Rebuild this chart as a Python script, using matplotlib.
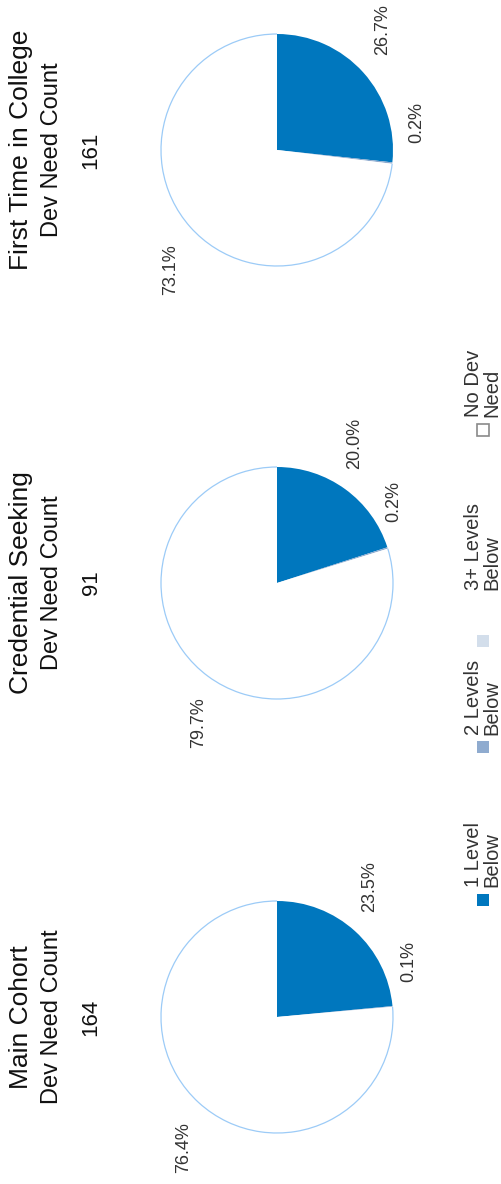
import numpy as np
import matplotlib.pyplot as plt
from matplotlib.patches import Arc, Rectangle

plt.rcParams['font.family'] = ['Liberation Sans', 'DejaVu Sans']

# Data
groups = ['Main Cohort', 'Credential Seeking', 'First Time in College']
counts = [164, 91, 161]
levels = ['1 Level\nBelow', '2 Levels\nBelow', '3+ Levels\nBelow', 'No Dev\nNeed']
main_pct = [23.5, 0.1, 0.0, 76.4]
cred_pct = [20.0, 0.2, 0.0, 79.7]
ftic_pct = [26.7, 0.2, 0.0, 73.1]
colors = ['#0077be', '#8fabcf', '#d3deeb', '#ffffff']

W, H = 501, 1184
R = 116                       # pie radius in px
pie_cx = 277
pie_cy = [1017, 583, 150]     # pie centres, px from top

fig = plt.figure(figsize=(W / 100, H / 100), dpi=100)

for name, n, pct, cy in zip(groups, counts, [main_pct, cred_pct, ftic_pct], pie_cy):
    size = 2.5 * R
    ax = fig.add_axes([(pie_cx - size / 2) / W, (H - cy - size / 2) / H, size / W, size / H])
    wedges, _ = ax.pie(pct, colors=colors, startangle=90, counterclock=False,
                       wedgeprops=dict(linewidth=0))
    # light blue outline only around the white slice
    w = wedges[3]
    ax.add_patch(Arc((0, 0), 2, 2, theta1=w.theta1, theta2=w.theta2,
                     color='#9ccbf7', lw=0.9))

    # percentage labels outside the pie, turned with the chart
    for w, v in zip(wedges, pct):
        if v == 0:
            continue
        mid = (w.theta1 + w.theta2) / 2
        if v < 1:
            ang, d = mid + 17.5, 1.23
        else:
            ang, d = mid + 7, 1.38
        a = np.radians(ang)
        ax.text(d * np.cos(a), d * np.sin(a), f'{v:.1f}%', rotation=90,
                ha='center', va='center', fontsize=13, color='#333333')

    # titles to the left
    yc = (H - cy) / H
    fig.text(21 / W, yc, name, rotation=90, ha='center', va='center', fontsize=19, color='#111111')
    fig.text(52 / W, yc, 'Dev Need Count', rotation=90, ha='center', va='center', fontsize=17, color='#111111')
    fig.text(91 / W, yc, str(n), rotation=90, ha='center', va='center', fontsize=16, color='#111111')

# legend, drawn by hand because the whole chart is turned
leg_marker_y = [900, 747, 641, 430]
leg_text_y = [887, 735, 590, 417]
edge = ['none', 'none', 'none', '#8a8a8a']
for lab, col, ec, my, ty in zip(levels, colors, edge, leg_marker_y, leg_text_y):
    fig.add_artist(Rectangle(((483 - 6) / W, (H - my - 6) / H), 12 / W, 12 / H,
                             transform=fig.transFigure, facecolor=col, edgecolor=ec, lw=1.2))
    fig.text(464 / W, (H - ty) / H, lab, rotation=90, ha='left', va='bottom',
             fontsize=14.5, color='#333333', linespacing=0.95)

fig.savefig('out.png', dpi=100)
